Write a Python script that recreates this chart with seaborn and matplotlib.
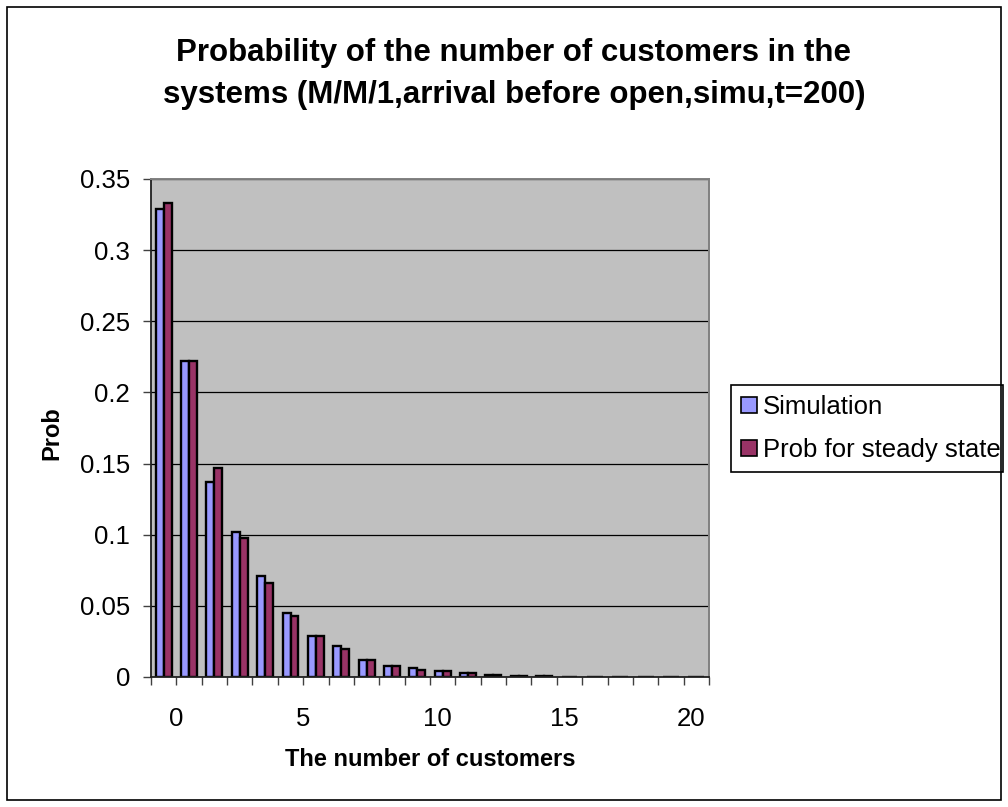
import matplotlib
matplotlib.use("Agg")
import matplotlib.pyplot as plt
from matplotlib.patches import Rectangle
from matplotlib.transforms import ScaledTranslation
import numpy as np
import pandas as pd
import seaborn as sns

# Number of customers in the system (one category per value)
customers = list(range(22))

# Probabilities read per category
simulation = [0.329, 0.222, 0.137, 0.102, 0.071, 0.045, 0.029, 0.022, 0.012,
              0.008, 0.0066, 0.0043, 0.0027, 0.0015, 0.001, 0.001,
              0, 0, 0, 0, 0, 0]
steady_state = [0.333, 0.222, 0.147, 0.098, 0.066, 0.043, 0.029, 0.0195, 0.012,
                0.008, 0.0052, 0.0039, 0.0026, 0.0015, 0.001, 0.0008,
                0, 0, 0, 0, 0, 0]

series_names = ["Simulation", "Prob for steady state"]
series_colors = ["#9999FF", "#993366"]

x_label_values = [0, 5, 10, 15, 20]
y_ticks = [0, 0.05, 0.1, 0.15, 0.2, 0.25, 0.3, 0.35]

title = "Probability of the number of customers in the\nsystems (M/M/1,arrival before open,simu,t=200)"

sns.set_theme(style="white")
plt.rcParams["font.family"] = ["Liberation Sans", "DejaVu Sans"]
plt.rcParams["text.color"] = "black"
plt.rcParams["axes.labelcolor"] = "black"

df = pd.DataFrame({
    "customers": customers * 2,
    "prob": simulation + steady_state,
    "series": [series_names[0]] * len(customers) + [series_names[1]] * len(customers),
})

W, H = 1008, 807
fig = plt.figure(figsize=(W / 100, H / 100), dpi=100)
fig.patch.set_facecolor("white")

# plot area in pixel terms
left, right, top, bottom = 151, 709, 179, 677
ax = fig.add_axes([left / W, 1 - bottom / H, (right - left) / W, (bottom - top) / H])

sns.barplot(data=df, x="customers", y="prob", hue="series",
            order=customers, hue_order=series_names, palette=series_colors,
            width=0.63, saturation=1, edgecolor="black", linewidth=1.7,
            ax=ax)

ax.set_facecolor("#C0C0C0")
ax.set_xlim(-0.5, len(customers) - 0.5)
ax.set_ylim(0, 0.35)

# y axis
ax.set_yticks(y_ticks)
ax.set_yticklabels([f"{v:g}" for v in y_ticks])
ax.grid(axis="y", color="black", linewidth=0.9)
ax.grid(axis="x", visible=False)
ax.set_axisbelow(True)

# x axis: tick marks on every category boundary, labels every 5
boundaries = np.arange(-0.5, len(customers), 1.0)
ax.set_xticks(boundaries, minor=True)
ax.set_xticks([v + 0.5 for v in x_label_values])
ax.set_xticklabels([str(v) for v in x_label_values])

ax.tick_params(axis="x", which="both", direction="out", length=6, width=1.0,
               color="#404040", bottom=True)
ax.tick_params(axis="x", which="major", pad=15.8, labelsize=18.5, labelcolor="black")
ax.tick_params(axis="y", which="major", direction="out", length=6, width=1.0,
               color="#404040", left=True, pad=9, labelsize=18.5, labelcolor="black")

# labels start half a digit left of their tick
shift = ScaledTranslation(-7.1 / 100, 0, fig.dpi_scale_trans)
for lbl in ax.get_xticklabels():
    lbl.set_ha("left")
    lbl.set_transform(lbl.get_transform() + shift)

for side in ("top", "right"):
    ax.spines[side].set_color("#808080")
    ax.spines[side].set_linewidth(1.4)
for side in ("left", "bottom"):
    ax.spines[side].set_color("#202020")
    ax.spines[side].set_linewidth(1.3)

ax.set_xlabel("The number of customers", fontsize=17, fontweight="bold", color="black")
ax.xaxis.set_label_coords(0.5, (bottom - 760) / (bottom - top))
ax.xaxis.label.set_va("center")
ax.set_ylabel("Prob", fontsize=17, fontweight="bold", color="black")
ax.yaxis.set_label_coords((52 - left) / (right - left), 0.49)
ax.yaxis.label.set_va("center")

# legend to the right of the plot area
sns.move_legend(ax, "upper left",
                bbox_to_anchor=((731 - left) / (right - left), (bottom - 385) / (bottom - top),
                                (1003 - 731) / (right - left), 0),
                mode="expand", title=None, frameon=True, fancybox=False,
                fontsize=18.5, handlelength=0.6, handleheight=0.6,
                handletextpad=0.25, borderpad=0.4, labelspacing=0.72,
                borderaxespad=0, edgecolor="black")
leg = ax.get_legend()
leg.get_frame().set_linewidth(1.2)
leg.get_frame().set_alpha(1)
for h in leg.legend_handles:
    h.set_edgecolor("black")
    h.set_linewidth(1.2)
for t in leg.get_texts():
    t.set_color("black")

fig.text(514 / W, 1 - 74 / H, title, ha="center", va="center",
         fontsize=22.5, fontweight="bold", linespacing=1.5, color="black")

# chart border
fig.patches.append(Rectangle((7 / W, 7 / H), (1001 - 7) / W, (800 - 7) / H,
                             transform=fig.transFigure, fill=False,
                             edgecolor="black", linewidth=1.2))

fig.savefig("out.png", dpi=100)
